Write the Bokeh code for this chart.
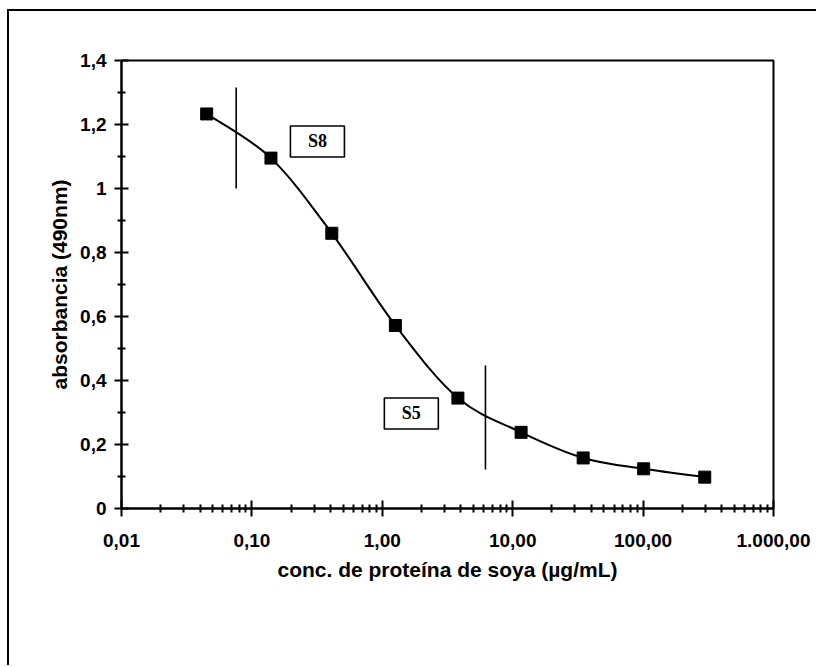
import numpy as np
from bokeh.plotting import figure
from bokeh.models import FixedTicker, Range1d
from bokeh.core.properties import value
from bokeh.embed import file_html
from bokeh.resources import INLINE

# data
conc = [0.045, 0.14, 0.41, 1.26, 3.8, 11.6, 34.7, 101.0, 297.0]
absorb = [1.233, 1.095, 0.86, 0.572, 0.345, 0.238, 0.158, 0.124, 0.098]

x_ticks = [0.01, 0.1, 1, 10, 100, 1000]
x_tick_labels = ["0,01", "0,10", "1,00", "10,00", "100,00", "1.000,00"]
y_ticks = [0, 0.2, 0.4, 0.6, 0.8, 1.0, 1.2, 1.4]
y_tick_labels = ["0", "0,2", "0,4", "0,6", "0,8", "1", "1,2", "1,4"]
y_minor = [0.1, 0.3, 0.5, 0.7, 0.9, 1.1, 1.3]

# marker lines (S8, S5)
mark_x = [0.0758, 6.18]
mark_y0 = [1.0, 0.122]
mark_y1 = [1.316, 0.447]
box_labels = ["S8", "S5"]
box_x = [0.318, 1.67]
box_y = [1.147, 0.297]

FONT = "Liberation Sans"

p = figure(width=809, height=656, x_axis_type="log",
           x_range=Range1d(0.01, 1000), y_range=Range1d(0, 1.4),
           output_backend="svg", toolbar_location=None,
           min_border_left=112, min_border_right=45,
           min_border_top=49, min_border_bottom=159)
# outer page frame: top and left edges only
p.styles = {"border-top": "2px solid black", "border-left": "2px solid black",
            "border-right": "0px none", "border-bottom": "0px none",
            "margin-left": "7px", "margin-top": "9px"}
p.grid.visible = False
p.background_fill_color = "white"
p.border_fill_color = "white"
p.outline_line_color = "black"
p.outline_line_width = 2

x_minor = [m * d for d in [0.01, 0.1, 1, 10, 100] for m in range(2, 10)]
p.xaxis.ticker = FixedTicker(ticks=x_ticks, minor_ticks=x_minor)
p.xaxis.major_label_overrides = {t: l for t, l in zip(x_ticks, x_tick_labels)}
p.yaxis.ticker = FixedTicker(ticks=y_ticks, minor_ticks=y_minor)
p.yaxis.major_label_overrides = {t: l for t, l in zip(y_ticks, y_tick_labels)}

for ax in (p.xaxis, p.yaxis):
    ax.axis_line_width = 2
    ax.axis_line_color = "black"
    ax.major_tick_line_width = 2
    ax.minor_tick_line_width = 2
    ax.major_tick_line_color = "black"
    ax.minor_tick_line_color = "black"
    ax.major_label_text_font = FONT
    ax.major_label_text_font_size = "19px"
    ax.major_label_text_font_style = "bold"
    ax.major_label_text_color = "black"
    ax.axis_label_text_font = FONT
    ax.axis_label_text_font_size = "21px"
    ax.axis_label_text_font_style = "bold"
    ax.axis_label_text_color = "black"

p.xaxis.major_tick_in = 8
p.xaxis.major_tick_out = 8
p.xaxis.minor_tick_in = 4
p.xaxis.minor_tick_out = 4
p.xaxis.major_label_standoff = 17
p.xaxis.axis_label_standoff = 8
p.xaxis.axis_label = "conc. de proteína de soya (µg/mL)"

p.yaxis.major_tick_in = 7
p.yaxis.major_tick_out = 7
p.yaxis.minor_tick_in = 4
p.yaxis.minor_tick_out = 4
p.yaxis.major_label_standoff = 8
p.yaxis.axis_label_standoff = 6
p.yaxis.axis_label = "absorbancia (490nm)"

# smoothed curve (Catmull-Rom -> cubic Bezier in log-x / linear-y space)
lx = np.log10(np.array(conc))
yy = np.array(absorb)
n = len(lx)
x0s, y0s, x1s, y1s, cx0, cy0, cx1, cy1 = ([] for _ in range(8))
for i in range(n - 1):
    pm = max(i - 1, 0)
    pp = min(i + 2, n - 1)
    c1x = lx[i] + (lx[i + 1] - lx[pm]) / 6
    c1y = yy[i] + (yy[i + 1] - yy[pm]) / 6
    c2x = lx[i + 1] - (lx[pp] - lx[i]) / 6
    c2y = yy[i + 1] - (yy[pp] - yy[i]) / 6
    x0s.append(10 ** lx[i]); y0s.append(yy[i])
    x1s.append(10 ** lx[i + 1]); y1s.append(yy[i + 1])
    cx0.append(10 ** c1x); cy0.append(c1y)
    cx1.append(10 ** c2x); cy1.append(c2y)
p.bezier(x0=x0s, y0=y0s, x1=x1s, y1=y1s, cx0=cx0, cy0=cy0, cx1=cx1, cy1=cy1,
         line_color="black", line_width=2)

p.scatter(conc, absorb, marker="square", size=12, fill_color="black",
          line_color="black")

p.segment(x0=mark_x, y0=mark_y0, x1=mark_x, y1=mark_y1,
          line_color="black", line_width=1.6)

p.rect(x=box_x, y=box_y, width=54, height=31, width_units="screen",
       height_units="screen", fill_color="white", line_color="black",
       line_width=1.6)
p.text(x=box_x, y=box_y, text=box_labels, text_font=value("Liberation Serif"),
       text_font_size="18px", text_font_style="bold", text_align="center",
       text_baseline="middle", text_color="black")

open("out.html", "w").write(file_html(p, INLINE))
